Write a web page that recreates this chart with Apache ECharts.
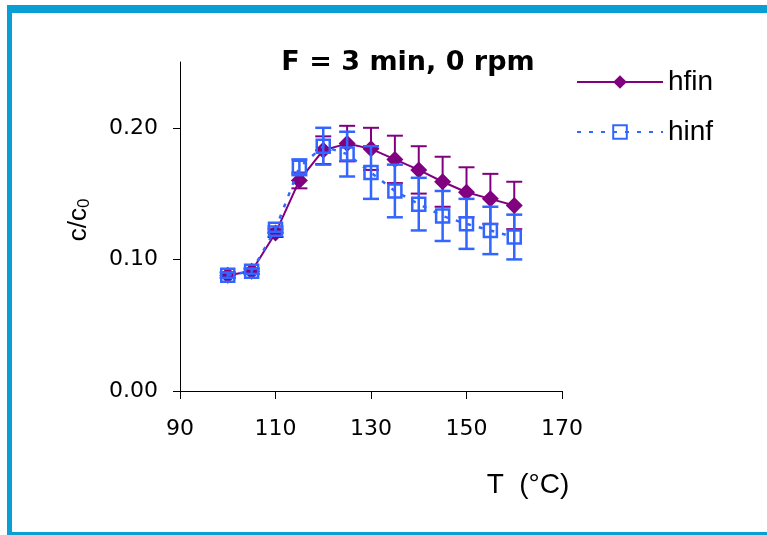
<!DOCTYPE html>
<html>
<head>
<meta charset="utf-8">
<script src="https://cdn.jsdelivr.net/npm/echarts@6/dist/echarts.min.js"></script>
<style>
html,body{margin:0;padding:0;background:#fff;}
#chart{width:767px;height:535px;}
</style>
</head>
<body>
<div id="chart"></div>
<script>
// ---- data ----
const temps   = [100, 105, 110, 115, 120, 125, 130, 135, 140, 145, 150, 155, 160];
const hfin    = [0.088, 0.091, 0.120, 0.160, 0.183, 0.188, 0.184, 0.176, 0.168, 0.159, 0.151, 0.146, 0.141];
const hfinErr = [0.002, 0.002, 0.003, 0.006, 0.0105, 0.0135, 0.016, 0.018, 0.018, 0.019, 0.019, 0.019, 0.018];
const hinf    = [0.088, 0.091, 0.123, 0.170, 0.186, 0.180, 0.166, 0.152, 0.142, 0.133, 0.127, 0.122, 0.117];
const hinfErr = [0.002, 0.002, 0.002, 0.006, 0.014, 0.017, 0.020, 0.020, 0.020, 0.019, 0.019, 0.018, 0.017];
const xTicks  = [90, 110, 130, 150, 170];
const yTicks  = [0, 0.1, 0.2];
const seriesNames = ['hfin', 'hinf'];
const titleText = 'F = 3 min, 0 rpm';

const PURPLE = '#800080';
const BLUE = '#3366ff';
const FRAME = '#0a9fd4';

function pairs(ys) { return temps.map((t, i) => [t, ys[i]]); }
function errData(ys, es) { return temps.map((t, i) => [t, ys[i] - es[i], ys[i] + es[i]]); }

function errRender(color, lw) {
  return function (params, api) {
    const x = api.value(0);
    const lo = api.coord([x, api.value(1)]);
    const hi = api.coord([x, api.value(2)]);
    const w = 8;
    const st = { stroke: color, lineWidth: lw };
    return {
      type: 'group',
      children: [
        { type: 'line', shape: { x1: hi[0], y1: hi[1], x2: lo[0], y2: lo[1] }, style: st },
        { type: 'line', shape: { x1: hi[0] - w, y1: hi[1], x2: hi[0] + w, y2: hi[1] }, style: st },
        { type: 'line', shape: { x1: lo[0] - w, y1: lo[1], x2: lo[0] + w, y2: lo[1] }, style: st }
      ]
    };
  };
}

const chart = echarts.init(document.getElementById('chart'), null, { renderer: 'canvas' });

const tickFont = { fontFamily: 'DejaVu Sans', fontSize: 22, color: '#000' };

chart.setOption({
  animation: false,
  backgroundColor: '#fff',
  title: {
    text: titleText,
    left: 403,
    top: 44,
    textAlign: 'center',
    textStyle: { fontFamily: 'DejaVu Sans', fontWeight: 'bold', fontSize: 27, color: '#000' }
  },
  legend: {
    orient: 'vertical',
    left: 576,
    top: 68,
    padding: 0,
    itemWidth: 86,
    itemHeight: 17,
    itemGap: 22,
    data: seriesNames,
    textStyle: { fontFamily: 'Liberation Sans', fontSize: 28, color: '#000', lineHeight: 26 }
  },
  grid: { left: 180, top: 62, width: 382, height: 329, containLabel: false },
  xAxis: {
    type: 'value',
    min: 90, max: 170, interval: 20,
    axisLine: { lineStyle: { color: '#000', width: 1 } },
    axisTick: { show: true, length: 8, inside: false, lineStyle: { color: '#000' }, customValues: xTicks },
    axisLabel: { ...tickFont, margin: 27, customValues: xTicks },
    splitLine: { show: false }
  },
  yAxis: {
    type: 'value',
    min: 0, max: 0.25, interval: 0.05,
    axisLine: { show: true, lineStyle: { color: '#000', width: 1 } },
    axisTick: { show: true, length: 7, inside: false, lineStyle: { color: '#000' }, customValues: yTicks },
    axisLabel: { ...tickFont, margin: 22, customValues: yTicks, formatter: v => v.toFixed(2) },
    splitLine: { show: false }
  },
  graphic: [
    { type: 'rect', shape: { x: 7, y: 5, width: 760, height: 8 }, style: { fill: FRAME }, z: 100 },
    { type: 'rect', shape: { x: 7, y: 5, width: 5, height: 530 }, style: { fill: FRAME }, z: 100 },
    { type: 'rect', shape: { x: 7, y: 532, width: 760, height: 3 }, style: { fill: FRAME }, z: 100 },
    {
      type: 'text', x: 528, y: 485,
      style: { text: 'T  (°C)', fontFamily: 'Liberation Sans', fontSize: 28, fill: '#000', align: 'center', verticalAlign: 'middle' }
    },
    {
      type: 'text', x: 79, y: 220, rotation: Math.PI / 2,
      style: {
        text: 'c/c{s|0}', fontFamily: 'Liberation Sans', fontSize: 26, fill: '#000',
        align: 'center', verticalAlign: 'middle',
        rich: { s: { fontFamily: 'Liberation Sans', fontSize: 17, fill: '#000', padding: [10, 0, 0, 0] } }
      }
    }
  ],
  series: [
    {
      type: 'custom', name: 'hfin-err', renderItem: errRender(PURPLE, 2),
      data: errData(hfin, hfinErr), z: 2, silent: true
    },
    {
      type: 'line', name: seriesNames[0], data: pairs(hfin), z: 3,
      symbol: 'diamond', symbolSize: 17, showSymbol: true,
      lineStyle: { color: PURPLE, width: 2 },
      itemStyle: { color: PURPLE, borderColor: PURPLE, borderWidth: 0 }
    },
    {
      type: 'custom', name: 'hinf-err', renderItem: errRender(BLUE, 2.5),
      data: errData(hinf, hinfErr), z: 4, silent: true
    },
    {
      type: 'line', name: seriesNames[1], data: pairs(hinf), z: 5,
      symbol: 'rect', symbolSize: 13, showSymbol: true,
      lineStyle: { color: BLUE, width: 2.5, type: [4, 8] },
      itemStyle: { color: 'rgba(255,255,255,0)', borderColor: BLUE, borderWidth: 2.5 }
    }
  ]
});
</script>
</body>
</html>
